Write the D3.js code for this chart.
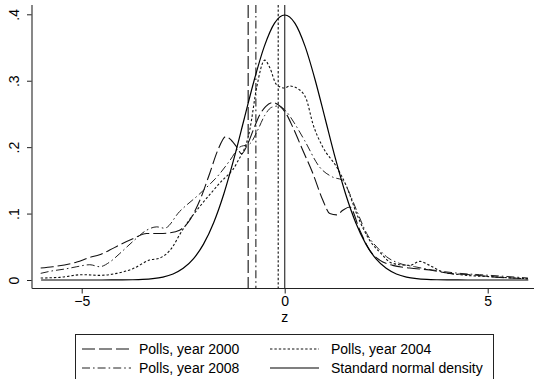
<!DOCTYPE html>
<html><head><meta charset="utf-8">
<script src="https://cdn.jsdelivr.net/npm/d3@7/dist/d3.min.js"></script>
<style>body{margin:0;background:#fff}svg{display:block}text{font-family:"Liberation Sans",Arial,sans-serif}</style>
</head><body>
<script>
// ---- data ----
const z2000 = [-6.01,-5.71,-5.12,-4.80,-4.56,-4.31,-4.06,-3.74,-3.40,-3.08,-2.83,-2.59,-2.34,-2.09,-1.85,-1.65,-1.45,-1.31,-1.18,-1.06,-0.91,-0.76,-0.62,-0.47,-0.30,-0.12,0.02,0.20,0.44,0.69,0.94,1.11,1.28,1.43,1.60,1.85,2.09,2.34,2.66,3.08,3.57,4.06,4.56,5.30,5.99];
const d2000 = [0.018,0.020,0.027,0.034,0.038,0.045,0.053,0.062,0.070,0.070,0.071,0.075,0.090,0.120,0.160,0.195,0.216,0.210,0.200,0.190,0.205,0.228,0.248,0.261,0.267,0.262,0.252,0.230,0.196,0.161,0.120,0.100,0.098,0.105,0.110,0.075,0.045,0.030,0.022,0.018,0.015,0.010,0.008,0.004,0.002];

const z2004 = [-6.01,-5.54,-4.98,-4.56,-4.14,-3.74,-3.33,-3.08,-2.76,-2.59,-2.41,-2.02,-1.60,-1.18,-0.86,-0.69,-0.49,-0.37,-0.20,0.00,0.12,0.37,0.54,0.69,0.94,1.28,1.53,1.77,2.09,2.34,2.66,3.08,3.33,3.57,3.89,4.31,5.05,5.99];
const d2004 = [0.003,0.004,0.008,0.007,0.010,0.017,0.030,0.033,0.050,0.068,0.085,0.116,0.146,0.176,0.226,0.290,0.331,0.320,0.294,0.289,0.292,0.286,0.271,0.236,0.200,0.170,0.140,0.100,0.060,0.042,0.025,0.022,0.028,0.022,0.012,0.008,0.005,0.002];

const z2008 = [-6.01,-5.79,-5.37,-5.12,-4.80,-4.56,-4.31,-4.06,-3.74,-3.40,-3.15,-2.96,-2.59,-2.09,-1.60,-1.35,-1.11,-0.86,-0.67,-0.49,-0.32,-0.15,0.02,0.25,0.49,0.86,1.18,1.43,1.60,1.77,2.02,2.34,2.51,2.83,3.20,3.65,4.31,4.80,5.30,5.99];
const d2008 = [0.010,0.013,0.017,0.020,0.023,0.020,0.027,0.040,0.058,0.075,0.080,0.078,0.103,0.130,0.160,0.180,0.200,0.205,0.225,0.248,0.260,0.262,0.255,0.235,0.210,0.170,0.155,0.150,0.130,0.105,0.070,0.045,0.035,0.025,0.020,0.015,0.010,0.008,0.006,0.003];

const zNormal = [-6,-5,-4.5,-4,-3.75,-3.5,-3.25,-3,-2.75,-2.5,-2.25,-2,-1.75,-1.5,-1.25,-1,-0.75,-0.5,-0.25,0,0.25,0.5,0.75,1,1.25,1.5,1.75,2,2.25,2.5,2.75,3,3.25,3.5,3.75,4,4.5,5,6];
const dNormal = [0,0.0000015,0.000016,0.00013,0.00035,0.00087,0.00203,0.00443,0.00909,0.01753,0.03174,0.05399,0.08628,0.12952,0.18265,0.24197,0.30114,0.35207,0.38667,0.39894,0.38667,0.35207,0.30114,0.24197,0.18265,0.12952,0.08628,0.05399,0.03174,0.01753,0.00909,0.00443,0.00203,0.00087,0.00035,0.00013,0.000016,0.0000015,0];

const meanLines = [-0.90, -0.16, -0.71, 0];   // 2000, 2004, 2008, normal
const seriesNames = ["Polls, year 2000","Polls, year 2004","Polls, year 2008","Standard normal density"];
const xTicks = [-5, 0, 5];
const yTicks = [0, 0.1, 0.2, 0.3, 0.4];
const xTitle = "z";

// ---- layout ----
const W = 534, H = 379;
const plot = {l:32, r:534, t:5, b:288.5};
const x = d3.scaleLinear().domain([-5,5]).range([81.7,487.7]);
const y = d3.scaleLinear().domain([0,0.4]).range([280,14.3]);

const styles = [
  {dash:"13,4", w:1.1, c:"#111"},
  {dash:"2.4,2", w:1.1, c:"#111"},
  {dash:"8,3,1.6,3", w:1.0, c:"#222"},
  {dash:null, w:1.2, c:"#000"}
];

const svg = d3.select("body").append("svg").attr("width",W).attr("height",H);

const series = [[z2000,d2000],[z2004,d2004],[z2008,d2008],[zNormal,dNormal]];
const line = d3.line().x(d=>x(d[0])).y(d=>y(d[1])).curve(d3.curveMonotoneX);

// vertical lines
meanLines.forEach((m,i)=>{
  svg.append("line").attr("x1",x(m)).attr("x2",x(m)).attr("y1",plot.t).attr("y2",plot.b)
    .attr("stroke", i===3?"#444":styles[i].c).attr("stroke-width", i===3?1.3:1.1)
    .attr("stroke-dasharray", styles[i].dash);
});

series.forEach((s,i)=>{
  const pts = s[0].map((z,k)=>[z,s[1][k]]);
  svg.append("path").datum(pts).attr("d",line).attr("fill","none")
    .attr("stroke",styles[i].c).attr("stroke-width",styles[i].w)
    .attr("stroke-dasharray",styles[i].dash);
});

// axes
const gx = svg.append("g").attr("transform",`translate(0,${plot.b})`)
  .call(d3.axisBottom(x).tickValues(xTicks).tickSize(5).tickPadding(2.5));
gx.select(".domain").remove();
gx.selectAll("text").attr("font-size",14).attr("fill","#000").attr("font-family","Liberation Sans, Arial, sans-serif");
gx.selectAll("line").attr("stroke","#222");
svg.append("line").attr("x1",plot.l).attr("x2",plot.r).attr("y1",plot.b).attr("y2",plot.b).attr("stroke","#222").attr("stroke-width",1.2);

const gy = svg.append("g").attr("transform",`translate(${plot.l},0)`)
  .call(d3.axisLeft(y).tickValues(yTicks).tickSize(5)
    .tickFormat(d=> d===0 ? "0" : d3.format(".1f")(d).replace(/^0/,"")));
gy.select(".domain").remove();
gy.selectAll("line").attr("stroke","#222");
gy.selectAll("text").attr("font-size",14).attr("fill","#000")
  .attr("font-family","Liberation Sans, Arial, sans-serif")
  .attr("x",null).attr("dy",null)
  .attr("text-anchor","middle")
  .attr("transform","translate(-13,0) rotate(-90)");
svg.append("line").attr("x1",plot.l).attr("x2",plot.l).attr("y1",plot.t).attr("y2",plot.b).attr("stroke","#555").attr("stroke-width",1.4);

svg.append("text").attr("x",x(0)).attr("y",322).attr("text-anchor","middle").attr("font-size",14).text(xTitle);

// legend
const lg = svg.append("g");
lg.append("rect").attr("x",75.5).attr("y",334.5).attr("width",418).attr("height",60).attr("fill","#fff").attr("stroke","#222").attr("stroke-width",1);
const cols = [{sx:82, tx:139},{sx:270, tx:331}];
seriesNames.forEach((n,i)=>{
  const c = cols[i%2], ry = i<2 ? 349 : 368;
  lg.append("line").attr("x1",c.sx).attr("x2",c.sx+49).attr("y1",ry).attr("y2",ry)
    .attr("stroke",styles[i].c).attr("stroke-width",styles[i].w).attr("stroke-dasharray",styles[i].dash);
  lg.append("text").attr("x",c.tx).attr("y",ry+5).attr("font-size",14).text(n);
});
</script>
</body></html>
